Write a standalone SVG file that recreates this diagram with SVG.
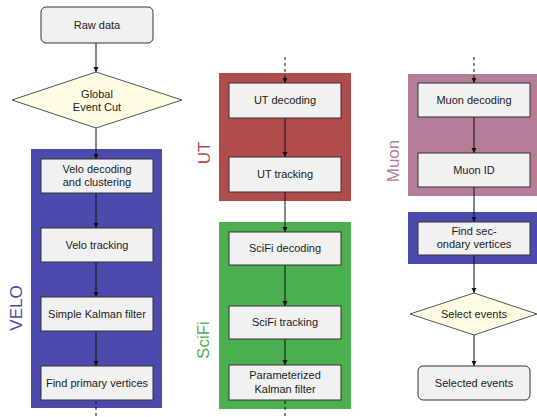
<svg xmlns="http://www.w3.org/2000/svg" width="537" height="417" viewBox="0 0 537 417">
<style>
.box{fill:#f1f1f1;stroke:#333;stroke-width:1}
.dia{fill:#fffbe3;stroke:#555;stroke-width:1}
.t{font-family:"Liberation Sans",Arial,sans-serif;font-size:11px;fill:#222;text-anchor:middle}
.lbl{font-family:"Liberation Sans",Arial,sans-serif;font-size:17px;text-anchor:middle}
.c{stroke:#111;stroke-width:1;fill:none}
.d{stroke:#111;stroke-width:1;fill:none;stroke-dasharray:3,3}
</style>
<defs>
<marker id="ah" markerWidth="6" markerHeight="6" refX="5" refY="3" orient="auto" markerUnits="userSpaceOnUse">
<path d="M0,0.5 L5,3 L0,5.5 z" fill="#111"/>
</marker>
</defs>

<g id="panels">
<rect id="velo-panel" x="31" y="149" width="131" height="259" fill="#4b4bae"/>
<rect id="ut-panel" x="219" y="73" width="132" height="128" fill="#b04c4c"/>
<rect id="scifi-panel" x="219" y="222" width="132" height="187" fill="#4caf50"/>
<rect id="muon-panel" x="408" y="74" width="132" height="122" fill="#b57d98"/>
<rect id="sv-panel" x="408" y="212" width="132" height="52" fill="#4b4bae"/>
</g>

<g id="labels">
<text class="lbl" fill="#4b4bae" transform="translate(22,308) rotate(-90)">VELO</text>
<text class="lbl" fill="#b04c4c" transform="translate(210,153) rotate(-90)">UT</text>
<text class="lbl" fill="#4caf50" transform="translate(209,340) rotate(-90)">SciFi</text>
<text class="lbl" fill="#b57d98" transform="translate(399,161) rotate(-90)">Muon</text>
</g>

<g id="connectors">
<line class="c" x1="96" y1="43" x2="96" y2="72" marker-end="url(#ah)"/>
<line class="c" x1="96" y1="128" x2="96" y2="159" marker-end="url(#ah)"/>
<line class="c" x1="96" y1="193" x2="96" y2="228" marker-end="url(#ah)"/>
<line class="c" x1="96" y1="262" x2="96" y2="297" marker-end="url(#ah)"/>
<line class="c" x1="96" y1="331" x2="96" y2="366" marker-end="url(#ah)"/>
<line class="d" x1="96" y1="401" x2="96" y2="417"/>
<line class="d" x1="285" y1="57" x2="285" y2="83" marker-end="url(#ah)"/>
<line class="c" x1="285" y1="118" x2="285" y2="157" marker-end="url(#ah)"/>
<line class="c" x1="285" y1="192" x2="285" y2="232" marker-end="url(#ah)"/>
<line class="c" x1="285" y1="265" x2="285" y2="306" marker-end="url(#ah)"/>
<line class="c" x1="285" y1="339" x2="285" y2="365" marker-end="url(#ah)"/>
<line class="d" x1="285" y1="401" x2="285" y2="417"/>
<line class="d" x1="474" y1="57" x2="474" y2="83" marker-end="url(#ah)"/>
<line class="c" x1="474" y1="117" x2="474" y2="153" marker-end="url(#ah)"/>
<line class="c" x1="474" y1="187" x2="474" y2="222" marker-end="url(#ah)"/>
<line class="c" x1="474" y1="255" x2="474" y2="293" marker-end="url(#ah)"/>
<line class="c" x1="474" y1="335" x2="474" y2="366" marker-end="url(#ah)"/>
</g>

<g id="raw-data">
<rect class="box" x="41" y="7" width="112" height="36" rx="5"/>
<text class="t" x="97" y="29">Raw data</text>
</g>
<g id="gec">
<polygon class="dia" points="96,72 182,100 96,128 12,100"/>
<text class="t" x="97" y="98">Global</text>
<text class="t" x="97" y="111">Event Cut</text>
</g>
<g id="velo-decoding">
<rect class="box" x="41" y="159" width="112" height="34"/>
<text class="t" x="97" y="173">Velo decoding</text>
<text class="t" x="97" y="186">and clustering</text>
</g>
<g id="velo-tracking">
<rect class="box" x="41" y="228" width="112" height="34"/>
<text class="t" x="97" y="249">Velo tracking</text>
</g>
<g id="simple-kalman">
<rect class="box" x="41" y="297" width="112" height="34"/>
<text class="t" x="97" y="318">Simple Kalman filter</text>
</g>
<g id="find-pv">
<rect class="box" x="41" y="366" width="112" height="34"/>
<text class="t" x="97" y="387">Find primary vertices</text>
</g>

<g id="ut-decoding">
<rect class="box" x="229" y="83" width="112" height="35"/>
<text class="t" x="285" y="104">UT decoding</text>
</g>
<g id="ut-tracking">
<rect class="box" x="229" y="157" width="112" height="35"/>
<text class="t" x="285" y="178">UT tracking</text>
</g>
<g id="scifi-decoding">
<rect class="box" x="229" y="232" width="112" height="33"/>
<text class="t" x="285" y="252">SciFi decoding</text>
</g>
<g id="scifi-tracking">
<rect class="box" x="229" y="306" width="112" height="33"/>
<text class="t" x="285" y="326">SciFi tracking</text>
</g>
<g id="param-kalman">
<rect class="box" x="229" y="365" width="112" height="35"/>
<text class="t" x="285" y="379">Parameterized</text>
<text class="t" x="285" y="393">Kalman filter</text>
</g>

<g id="muon-decoding">
<rect class="box" x="418" y="83" width="112" height="34"/>
<text class="t" x="474" y="104">Muon decoding</text>
</g>
<g id="muon-id">
<rect class="box" x="418" y="153" width="112" height="34"/>
<text class="t" x="474" y="174">Muon ID</text>
</g>
<g id="find-sv">
<rect class="box" x="418" y="222" width="112" height="33"/>
<text class="t" x="474" y="235">Find sec-</text>
<text class="t" x="474" y="248">ondary vertices</text>
</g>
<g id="select-events">
<polygon class="dia" points="474,293 537,314 474,335 410,314"/>
<text class="t" x="474" y="318">Select events</text>
</g>
<g id="selected-events">
<rect class="box" x="418" y="366" width="112" height="34" rx="5"/>
<text class="t" x="474" y="387">Selected events</text>
</g>
</svg>
